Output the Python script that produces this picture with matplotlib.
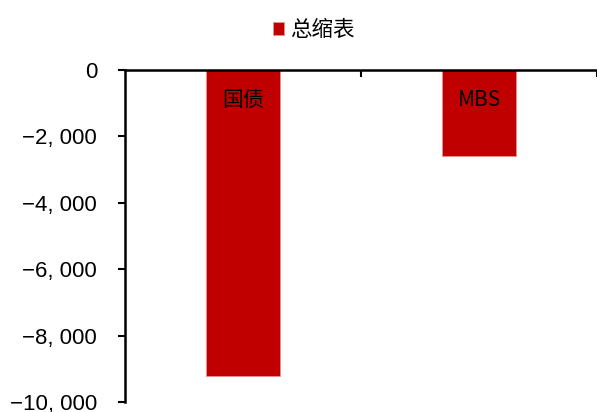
import numpy as np
import matplotlib.pyplot as plt
from matplotlib.ticker import FuncFormatter

plt.rcParams['font.family'] = ['Noto Sans CJK SC', 'DejaVu Sans']

categories = ['国债', 'MBS']
values = [-9220, -2590]
series_name = '总缩表'
yticks = [0, -2000, -4000, -6000, -8000, -10000]

fig = plt.figure(figsize=(5.97, 4.12), dpi=100)
ax = fig.add_axes([0.2094, 0.0243, 0.7906, 0.8058])

x = np.arange(len(categories))
ax.bar(x, values, width=0.31, color='#C00000', edgecolor='#E89090',
       linewidth=0.6, label=series_name, zorder=2)

for xi, name in zip(x, categories):
    ax.text(xi, -900, name, ha='center', va='center', fontsize=15,
            color='black', zorder=3)

ax.set_xlim(-0.5, 1.5)
ax.set_ylim(-10000, 0)
ax.set_yticks(yticks)
ax.yaxis.set_major_formatter(
    FuncFormatter(lambda v, p: ('−' if v < 0 else '') + '{:,}'.format(int(abs(v))).replace(',', ', ')))
for lab in ax.get_yticklabels():
    lab.set_family(['Liberation Sans', 'DejaVu Sans'])
ax.tick_params(axis='y', labelsize=16, length=5, width=1.5, direction='out', pad=15)

ax.xaxis.tick_top()
ax.set_xticks([0.5, 1.5])
ax.set_xticklabels([])
ax.tick_params(axis='x', direction='in', length=5, width=1.5)

ax.spines['bottom'].set_visible(False)
ax.spines['right'].set_visible(False)
ax.spines['top'].set_linewidth(1.8)
ax.spines['left'].set_linewidth(1.8)

fig.legend(loc='upper center', bbox_to_anchor=(0.525, 1.0), frameon=False,
           fontsize=15.5, handlelength=0.55, handleheight=0.55, handletextpad=0.25)

fig.savefig('out.png', dpi=100)
